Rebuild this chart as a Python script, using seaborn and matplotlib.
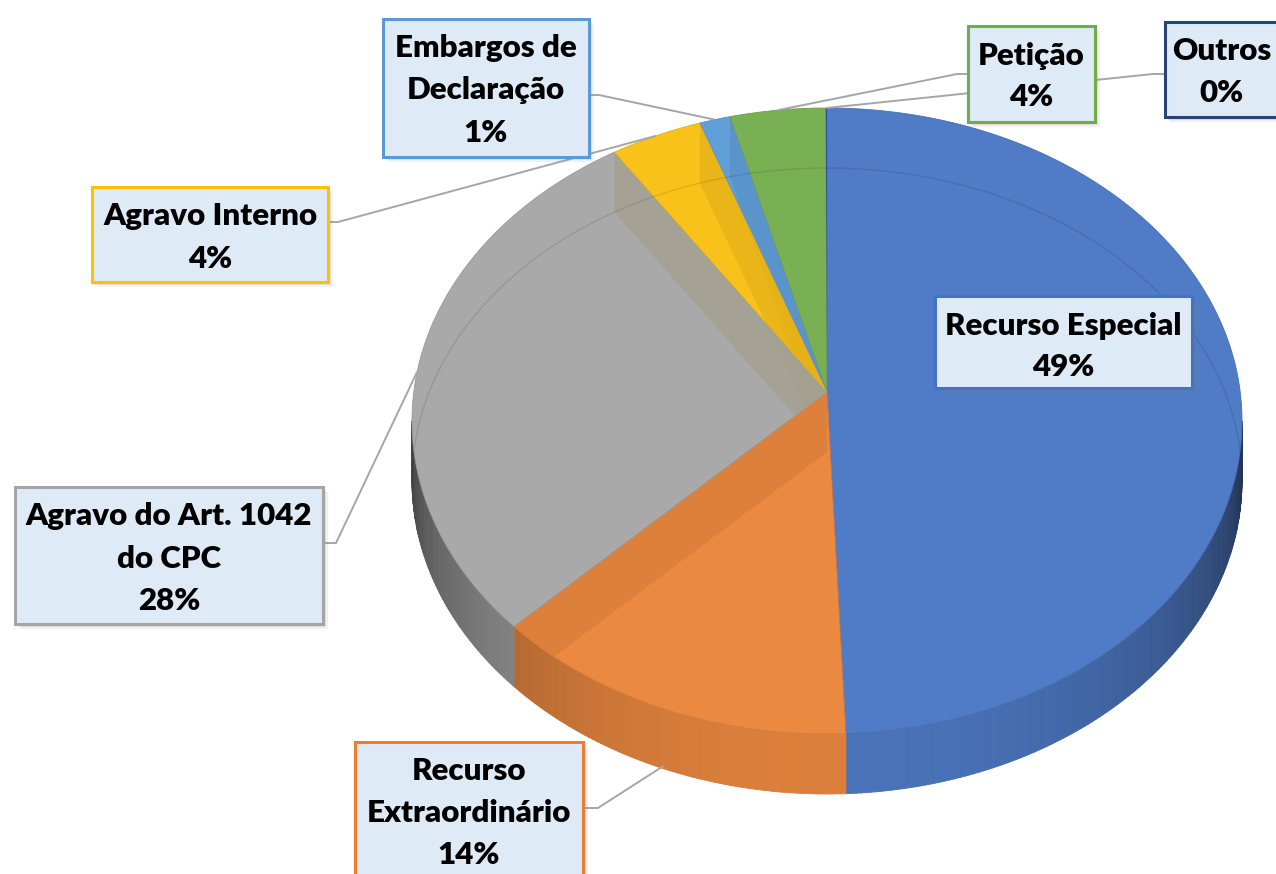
import numpy as np
import matplotlib
matplotlib.use("Agg")
import matplotlib.pyplot as plt
import matplotlib.colors as mcolors
from matplotlib.patches import Polygon, Rectangle
from matplotlib.collections import PolyCollection
import seaborn as sns

# ---------------- data ----------------
categories = ["Recurso Especial", "Recurso Extraordinário", "Agravo do Art. 1042 do CPC",
              "Agravo Interno", "Embargos de Declaração", "Petição", "Outros"]
values = [49.2, 14.3, 27.8, 3.6, 1.2, 3.7, 0.05]
label_lines = [["Recurso Especial"], ["Recurso", "Extraordinário"], ["Agravo do Art. 1042", "do CPC"],
               ["Agravo Interno"], ["Embargos de", "Declaração"], ["Petição"], ["Outros"]]
slice_colors = ["#4F7BC7", "#EC8940", "#A9A9A9", "#F9C21A", "#619FD8", "#7AB054", "#2F5597"]
border_colors = ["#4472C4", "#ED7D31", "#A5A5A5", "#FFC000", "#5B9BD5", "#70AD47", "#264478"]

# ---------------- style ----------------
sns.set_theme(style="white")
plt.rcParams["font.family"] = ["Lato", "DejaVu Sans"]

W, H = 1276, 874
fig = plt.figure(figsize=(W / 100, H / 100), dpi=100)
ax = fig.add_axes([0, 0, 1, 1])
ax.set_xlim(0, W)
ax.set_ylim(H, 0)
ax.axis("off")

# pie geometry (pixel space)
CX, CY, A, B = 827.0, 421.0, 415.0, 313.0
DEPTH = 60.0
APEX = np.array([827.0, 392.0])


def rim(t):
    t = np.radians(np.asarray(t, dtype=float))
    return np.stack([CX + A * np.sin(t), CY - B * np.cos(t)], axis=-1)


def shade(c, f):
    r, g, b = mcolors.to_rgb(c)
    return (min(r * f, 1), min(g * f, 1), min(b * f, 1))


total = float(sum(values))
fracs = np.array(values) / total
ends = np.cumsum(fracs) * 360.0
starts = np.concatenate([[0.0], ends[:-1]])
mids = (starts + ends) / 2

# ---- outer side wall (front half) ----
quads, qcols = [], []
for i in range(len(values)):
    s, e = max(starts[i], 90.0), min(ends[i], 270.0)
    if e <= s:
        continue
    n = max(int(np.ceil((e - s) / 0.7)), 1)
    ts = np.linspace(s, e, n + 1)
    for t0, t1 in zip(ts[:-1], ts[1:]):
        p0, p1 = rim(t0), rim(t1)
        quads.append([p0, p1, p1 + [0, DEPTH], p0 + [0, DEPTH]])
        tm = (t0 + t1) / 2
        f = 0.93 - 0.55 * ((tm - 180.0) / 90.0) ** 2
        qcols.append(shade(slice_colors[i], f))
ax.add_collection(PolyCollection(quads, facecolors=qcols, edgecolors=qcols, linewidths=0.6, zorder=1))

# ---- top faces ----
top_patches = []
for i in range(len(values)):
    ts = np.linspace(starts[i], ends[i], max(int((ends[i] - starts[i]) / 0.5), 2) + 1)
    pts = np.vstack([APEX, rim(ts)])
    ec = shade(slice_colors[i], 0.9) if fracs[i] > 0.005 else "none"
    poly = Polygon(pts, closed=True, facecolor=slice_colors[i],
                   edgecolor=ec, linewidth=0.6, zorder=2)
    ax.add_patch(poly)
    top_patches.append(poly)

# ---- radial walls seen through the translucent top ----
wall_tint = {2: "#F9C21A"}
for i in range(len(values) - 1):
    tb = ends[i]
    p = rim(tb)
    targets = [i] + ([i - 1] if fracs[i] < 0.05 and i > 0 else [])
    for k in targets:
        col = np.array(shade(slice_colors[k], 0.92))
        if k in wall_tint:
            col = 0.9 * col + 0.1 * np.array(mcolors.to_rgb(wall_tint[k]))
        band = Polygon([APEX, p, p + [0, DEPTH], APEX + [0, DEPTH]], closed=True,
                       facecolor=tuple(col), edgecolor="none", alpha=0.8, zorder=3)
        ax.add_patch(band)
        band.set_clip_path(top_patches[k])

# ---- hidden back bottom rim seen through ----
ts = np.linspace(-90, 90, 300)
bk = rim(ts) + [0, DEPTH]
for i in range(len(values)):
    ln, = ax.plot(bk[:, 0], bk[:, 1], color="black", alpha=0.10, lw=1.0, zorder=4)
    ln.set_clip_path(top_patches[i])

# ---------------- labels ----------------
boxes = {0: (935, 296, 1192, 388), 1: (355, 742, 583, 900), 2: (15, 487, 323, 624),
         3: (92, 187, 328, 282), 4: (383, 19, 589, 157), 5: (968, 26, 1095, 122),
         6: (1165, 22, 1300, 117)}
stubs = {1: [(583, 808), (598, 808)], 2: [(323, 543), (336, 543)], 3: [(328, 222), (338, 222)],
         4: [(589, 95), (599, 95)], 5: [(968, 74), (957, 74)], 6: [(1165, 74), (1153, 74)]}

for i, st in stubs.items():
    end = rim(mids[i])
    if 90 < mids[i] < 270:
        end = end + [0, 0.95 * DEPTH]
    pts = np.array(st + [tuple(end)])
    ax.plot(pts[:, 0], pts[:, 1], color="#A6A6A6", lw=1.4, zorder=5, solid_capstyle="butt")

for i, (x0, y0, x1, y1) in boxes.items():
    for off, a in [(5, 0.10), (3, 0.14)]:
        ax.add_patch(Rectangle((x0 + off, y0 + off), x1 - x0, y1 - y0, facecolor="#7F7F7F",
                               edgecolor="none", alpha=a, zorder=6))
    ax.add_patch(Rectangle((x0, y0), x1 - x0, y1 - y0, facecolor="#DEEAF6",
                           edgecolor=border_colors[i], linewidth=2.2, zorder=7))
    lines = label_lines[i] + ["{:.0f}%".format(fracs[i] * 100)]
    cx = (x0 + x1) / 2 if i != 6 else 1222
    for k, s in enumerate(lines):
        ax.text(cx, y0 + 29.5 + 42 * k, s, ha="center", va="center", fontsize=22.5,
                fontweight="heavy", color="black", zorder=8)

fig.savefig("out.png", dpi=100)
